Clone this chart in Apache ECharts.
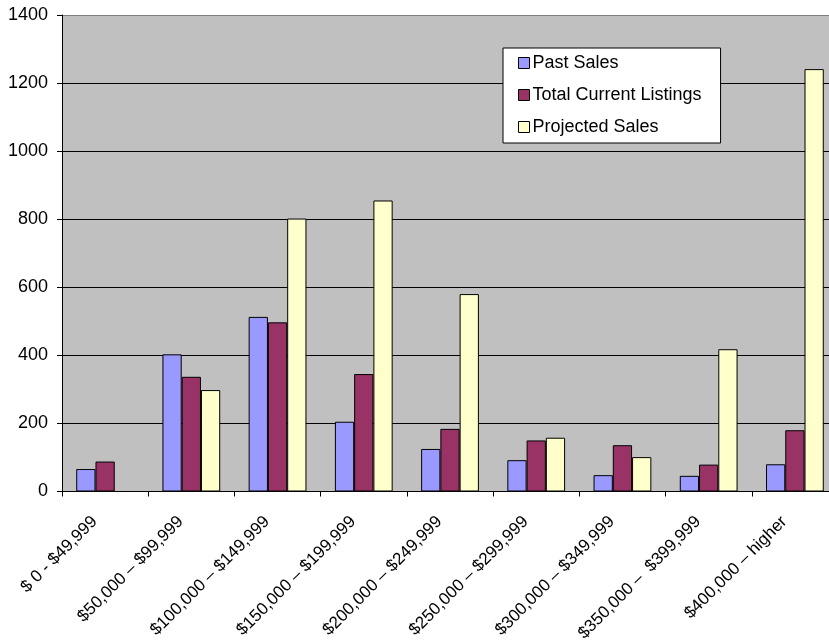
<!DOCTYPE html>
<html><head><meta charset="utf-8">
<script src="https://cdn.jsdelivr.net/npm/echarts@6/dist/echarts.min.js"></script>
<style>html,body{margin:0;padding:0;background:#fff}#c{width:829px;height:640px}</style>
</head><body><div id="c"></div>
<script>
const categories = ['$ 0 - $49,999','$50,000 – $99,999','$100,000 – $149,999','$150,000 – $199,999','$200,000 – $249,999','$250,000 – $299,999','$300,000 – $349,999','$350,000 –  $399,999','$400,000 – higher'];
const pastSales = [66, 403, 513, 205, 125, 92, 48, 46, 80];
const currentListings = [88, 337, 497, 345, 184, 150, 136, 79, 180];
const projectedSales = [null, 298, 802, 855, 580, 158, 101, 418, 1241];
const seriesNames = ['Past Sales','Total Current Listings','Projected Sales'];
const yTicks = [0,200,400,600,800,1000,1200,1400];

const chart = echarts.init(document.getElementById('c'), null, {renderer:'canvas'});
const font = 'Liberation Sans';
function bar(name, data, color){
  return {name, type:'bar', data, barGap:'0%', barCategoryGap:'33%',
    itemStyle:{color, borderColor:'#000', borderWidth:1}, animation:false};
}
chart.setOption({
  animation:false,
  textStyle:{fontFamily:font},
  grid:{left:62, top:15, width:776, height:476.5, containLabel:false, outerBoundsMode:'none',
    show:true, backgroundColor:'#C0C0C0', borderWidth:0},
  legend:{orient:'vertical', left:503, top:48, itemWidth:11, itemHeight:11, itemGap:14,
    padding:[6,19,7,15], backgroundColor:'#fff', borderColor:'#000', borderWidth:1,
    textStyle:{fontSize:18, color:'#000', fontFamily:font, padding:[0,0,0,-2]},
    icon:'rect', itemStyle:{borderColor:'#000', borderWidth:1},
    data:seriesNames},
  xAxis:{type:'category', data:categories,
    axisLine:{lineStyle:{color:'#000', width:1}},
    axisTick:{show:true, length:5, lineStyle:{color:'#000'}},
    axisLabel:{rotate:45, interval:0, margin:17, padding:[0,15,0,0], fontSize:17, color:'#000', fontFamily:font},
    splitLine:{show:false}},
  yAxis:{type:'value', min:yTicks[0], max:yTicks[yTicks.length-1], interval:200,
    axisLine:{show:true, lineStyle:{color:'#000', width:1}},
    axisTick:{show:true, length:5, lineStyle:{color:'#000'}},
    axisLabel:{fontSize:18, color:'#000', margin:14, fontFamily:font, formatter:v => String(v)},
    splitLine:{show:true, lineStyle:{color:['#000','#000','#000','#000','#000','#000','#000','#808080'], width:1}}},
  series:[
    bar(seriesNames[0], pastSales, '#9999FF'),
    bar(seriesNames[1], currentListings, '#993366'),
    bar(seriesNames[2], projectedSales, '#FFFFCC')
  ]
});
</script></body></html>
